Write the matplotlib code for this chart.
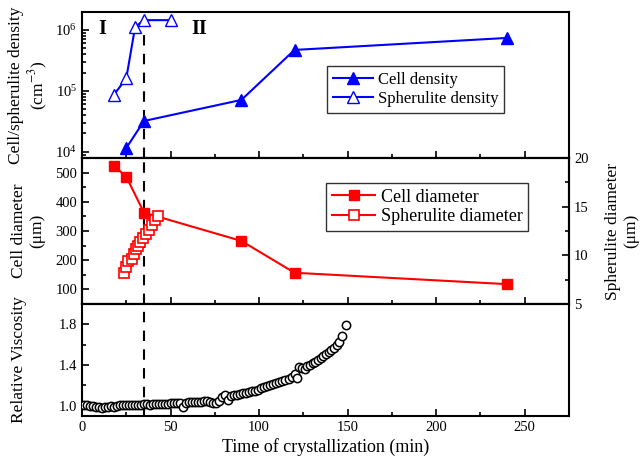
import matplotlib
matplotlib.use("Agg")
import matplotlib.pyplot as plt
from matplotlib.ticker import MultipleLocator, LogLocator, NullFormatter, FormatStrFormatter

plt.rcParams['font.family'] = ['Liberation Serif', 'DejaVu Serif']
plt.rcParams['mathtext.fontset'] = 'stix'
plt.rcParams['font.size'] = 11

# cell / spherulite density (cm^-3)
cell_dens_t = [25, 35, 90, 120, 240]
cell_dens = [1.15e4, 3.2e4, 7.1e4, 4.7e5, 7.4e5]
sph_dens_t = [18, 25, 30, 35, 50]
sph_dens = [8.6e4, 1.6e5, 1.12e6, 1.45e6, 1.45e6]

# cell diameter (um) on left axis, spherulite diameter (um) on right axis
cell_diam_t = [18, 25, 35, 90, 120, 240]
cell_diam = [523, 486, 363, 266, 157, 118]
sph_diam_t = [23.9, 24.9, 26.2, 28.0, 29.3, 30.5, 31.8, 33.0, 34.7, 36.3, 38.0, 39.6, 41.0, 43.2]
sph_diam = [8.2, 8.8, 9.4, 9.6, 10.1, 10.6, 11.0, 11.4, 11.8, 12.2, 12.6, 13.1, 13.6, 14.0]

# relative viscosity
visc_t = [1.0, 2.7, 4.4, 6.1, 7.8, 9.5, 11.2, 12.9, 14.6, 16.3, 18.0, 19.7, 21.4, 23.1,
          24.8, 26.5, 28.2, 29.9, 31.6, 33.3, 35.0, 36.7, 38.4, 40.1, 41.8, 43.5, 45.2,
          46.9, 48.6, 50.3, 52.0, 53.7, 55.4, 57.1, 58.8, 60.5, 62.2, 63.9, 65.6, 67.3,
          69.0, 70.7, 72.4, 74.1, 75.8, 77.5, 79.2, 80.9, 82.6, 84.3, 86.0, 87.7, 89.4,
          91.1, 92.8, 94.5, 96.2, 97.9, 99.6, 101.3, 103.0, 104.7, 106.4, 108.1, 109.8,
          111.5, 113.2, 114.9, 116.6, 118.3, 120.0, 121.2, 122.8, 124.3, 125.8, 127.3,
          128.8, 130.3, 131.8, 133.3, 134.8, 136.3, 137.8, 139.3, 140.8, 142.3, 143.8,
          145.3, 146.8, 149.0]
visc = [1.01, 1.01, 1.00, 1.00, 0.99, 0.99, 0.98, 0.99, 0.99, 1.00, 0.99, 1.00, 1.01, 1.01,
        1.01, 1.01, 1.01, 1.01, 1.01, 1.01, 1.02, 1.02, 1.01, 1.02, 1.02, 1.02, 1.02,
        1.02, 1.02, 1.03, 1.03, 1.03, 1.03, 0.99, 1.03, 1.04, 1.04, 1.04, 1.04, 1.04,
        1.05, 1.05, 1.04, 1.03, 1.03, 1.05, 1.09, 1.11, 1.06, 1.10, 1.11, 1.11, 1.12,
        1.13, 1.13, 1.14, 1.15, 1.15, 1.16, 1.17, 1.18, 1.19, 1.20, 1.21, 1.22,
        1.23, 1.24, 1.25, 1.26, 1.28, 1.31, 1.27, 1.38, 1.37, 1.36, 1.39,
        1.40, 1.42, 1.43, 1.45, 1.47, 1.49, 1.51, 1.53, 1.55, 1.57, 1.60,
        1.63, 1.69, 1.79]

fig = plt.figure(figsize=(6.43, 4.62), dpi=100)
L, W = 0.1275, 0.7575
ax1 = fig.add_axes([L, 0.658, W, 0.316])
ax2 = fig.add_axes([L, 0.342, W, 0.316], sharex=ax1)
ax3 = fig.add_axes([L, 0.0996, W, 0.2424], sharex=ax1)
ax2r = ax2.twinx()

for ax in (ax1, ax2, ax3, ax2r):
    for s in ax.spines.values():
        s.set_linewidth(1.5)
    ax.tick_params(which='both', direction='in', width=1.2, labelsize=10.5)
    ax.tick_params(which='major', length=5)
    ax.tick_params(which='minor', length=3)
for ax in (ax1, ax2, ax3):
    ax.tick_params(axis='x', which='both', top=False)
    ax.tick_params(axis='y', which='both', right=False)
    ax.axvline(35, color='black', lw=1.5, ls=(0, (5, 4)), zorder=1)

ax1.set_xlim(0, 275)
ax1.xaxis.set_major_locator(MultipleLocator(50))
ax1.xaxis.set_minor_locator(MultipleLocator(25))
ax1.tick_params(axis='x', labelbottom=False)
ax2.tick_params(axis='x', labelbottom=False)

# top: densities
ax1.set_yscale('log')
ax1.set_ylim(10 ** 3.897, 10 ** 6.295)
ax1.yaxis.set_major_locator(LogLocator(base=10, numticks=10))
ax1.yaxis.set_minor_locator(LogLocator(base=10, subs=range(2, 10), numticks=10))
ax1.yaxis.set_minor_formatter(NullFormatter())
ax1.plot(cell_dens_t, cell_dens, color='blue', lw=1.5, marker='^', ms=8,
         mfc='blue', mec='blue', label='Cell density', zorder=3)
ax1.plot(sph_dens_t, sph_dens, color='blue', lw=1.5, marker='^', ms=8,
         mfc='white', mec='blue', label='Spherulite density', zorder=3)
ax1.set_ylabel('Cell/spherulite density\n(cm$^{-3}$)', fontsize=12.5, linespacing=1.15)
ax1.text(9, 10 ** 5.93, 'I', fontsize=14.5, fontweight='bold')
ax1.text(62, 10 ** 5.93, 'II', fontsize=14.5, fontweight='bold')
ax1.legend(loc='upper left', bbox_to_anchor=(0.503, 0.63), fontsize=12,
           frameon=True, fancybox=False, edgecolor='black', handlelength=2.4,
           borderpad=0.35, labelspacing=0.2, handletextpad=0.3, borderaxespad=0)

# middle: diameters
ax2.set_ylim(50, 550)
ax2.yaxis.set_major_locator(MultipleLocator(100))
ax2.yaxis.set_minor_locator(MultipleLocator(50))
ax2r.set_ylim(5, 20)
ax2r.yaxis.set_major_locator(MultipleLocator(5))
ax2r.yaxis.set_minor_locator(MultipleLocator(2.5))
ax2r.tick_params(axis='x', which='both', top=False, bottom=False)
l1, = ax2.plot(cell_diam_t, cell_diam, color='red', lw=1.5, marker='s', ms=7,
               mfc='red', mec='red', label='Cell diameter', zorder=3)
l2, = ax2r.plot(sph_diam_t, sph_diam, color='red', lw=1.5, marker='s', ms=6.5,
                mfc='white', mec='red', mew=1.2, label='Spherulite diameter', zorder=3)
ax2.set_ylabel('Cell diameter\n(μm)', fontsize=12.5, linespacing=1.15)
ax2r.set_ylabel('Spherulite diameter\n(μm)', fontsize=12.5, linespacing=1.15, labelpad=12)
ax2r.legend([l1, l2], ['Cell diameter', 'Spherulite diameter'], loc='upper left',
            bbox_to_anchor=(0.502, 0.828), fontsize=13, frameon=True, fancybox=False,
            edgecolor='black', handlelength=2.4, borderpad=0.3, labelspacing=0.15,
            handletextpad=0.3, borderaxespad=0)

# bottom: viscosity
ax3.set_ylim(0.9, 2.0)
ax3.yaxis.set_minor_locator(MultipleLocator(0.2))
ax3.yaxis.set_major_formatter(FormatStrFormatter('%.1f'))
ax3.set_yticks([1.0, 1.4, 1.8])
ax3.plot(visc_t, visc, ls='none', marker='o', ms=6, mfc='white', mec='black',
         mew=1.1, zorder=3)
ax3.set_ylabel('Relative Viscosity', fontsize=12.5)
ax3.set_xlabel('Time of crystallization (min)', fontsize=13, labelpad=3)

ax1.yaxis.set_label_coords(-0.066, 0.5)
ax2.yaxis.set_label_coords(-0.076, 0.5)
ax3.yaxis.set_label_coords(-0.113, 0.5)

fig.savefig('out.png', dpi=100)
